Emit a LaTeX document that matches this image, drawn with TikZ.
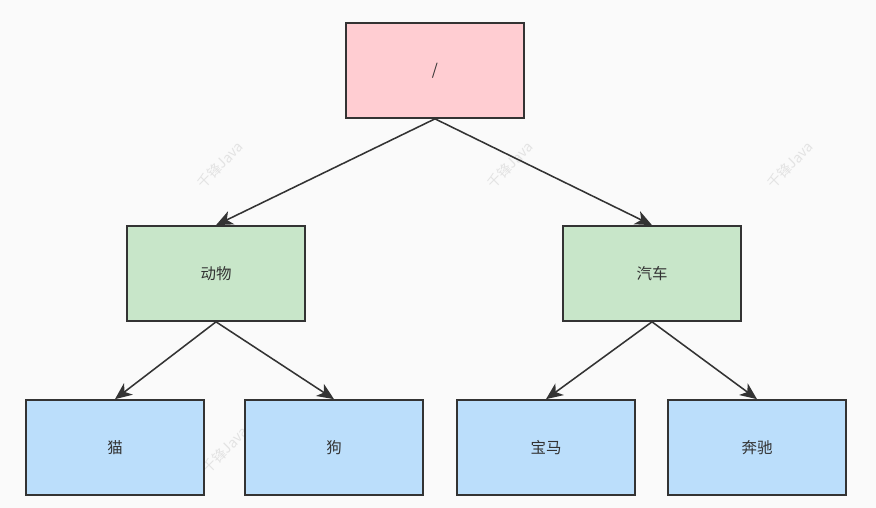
\documentclass[tikz,border=0pt]{standalone}
\usepackage{fontspec}
\setmainfont{Noto Sans CJK SC}
\usetikzlibrary{positioning, arrows.meta}
\definecolor{rootpink}{HTML}{FFCDD2}
\definecolor{midgreen}{HTML}{C8E6C9}
\definecolor{leafblue}{HTML}{BBDEFB}
\definecolor{inkgray}{HTML}{333333}
\definecolor{bggray}{HTML}{FAFAFA}
\tikzset{
  treebox/.style={draw=inkgray, line width=1.2pt, minimum width=4.45cm, minimum height=2.375cm, text=inkgray, font=\fontsize{11}{13}\selectfont},
  treelink/.style={draw=inkgray, line width=1.1pt, -{Stealth[length=4.2mm, width=3.6mm, inset=1.2mm]}},
  wmark/.style={text=black!11, rotate=45, font=\fontsize{10}{12}\selectfont}
}
\begin{document}
\begin{tikzpicture}
\useasboundingbox (0,0) rectangle (21.9,12.7);
\fill [bggray] (0,0) rectangle (21.9,12.7);
% watermark
\node[wmark] at (5.5,8.575) (w1) {千锋Java};
\node[wmark] at (12.75,8.575) (w2) {千锋Java};
\node[wmark] at (19.75,8.575) (w3) {千锋Java};
\node[wmark] at (5.625,1.45) (w4) {千锋Java};
% boxes
\node[treebox, fill=rootpink] at (10.875,10.9375) (root) {/};
\node[treebox, fill=midgreen] at (5.40,5.8625) (animal) {动物};
\node[treebox, fill=midgreen] at (16.3,5.8625) (car) {汽车};
\node[treebox, fill=leafblue] at (2.875,1.5125) (cat) {猫};
\node[treebox, fill=leafblue] at (8.35,1.5125) (dog) {狗};
\node[treebox, fill=leafblue] at (13.65,1.5125) (bmw) {宝马};
\node[treebox, fill=leafblue] at (18.925,1.5125) (benz) {奔驰};
% links
\draw[treelink] (root.south) -- (animal.north);
\draw[treelink] (root.south) -- (car.north);
\draw[treelink] (animal.south) -- (cat.north);
\draw[treelink] (animal.south) -- (dog.north);
\draw[treelink] (car.south) -- (bmw.north);
\draw[treelink] (car.south) -- (benz.north);
\end{tikzpicture}
\end{document}
